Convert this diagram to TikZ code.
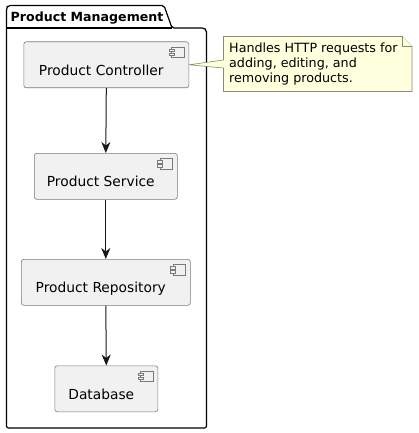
\documentclass[tikz,border=0pt]{standalone}
\usepackage{fontspec}
\setmainfont{DejaVu Sans}
\usetikzlibrary{arrows.meta}
\definecolor{compfill}{HTML}{F1F1F1}
\definecolor{compline}{HTML}{7A7A7A}
\definecolor{notefill}{HTML}{FEFFDD}
\definecolor{noteline}{HTML}{8A8A70}
\definecolor{inkc}{HTML}{181818}
\tikzset{
  x=1pt,y=-1pt,
  compbox/.style={draw=compline,fill=compfill,line width=0.6pt,rounded corners=2.5pt,inner sep=0pt,anchor=north west,text=black,font=\fontsize{13.8}{16}\selectfont},
  flow/.style={draw=inkc,line width=1pt,-{Stealth[length=11pt,width=9pt,inset=3.5pt]}},
  pkgline/.style={draw=black,line width=1.2pt,line join=round},
  iconline/.style={draw=compline,line width=0.5pt,fill=compfill},
  notetext/.style={font=\fontsize{12.7}{15}\selectfont,align=left,anchor=north west,inner sep=0pt,text=black}
}
\newcommand{\complabel}[1]{\raisebox{-10.5pt}[0pt][0pt]{#1}\kern10pt\relax}
\newcommand{\compicon}[1]{%
  \draw[iconline] ([xshift=-17.5pt,yshift=-5.5pt]#1.north east) rectangle ([xshift=-5pt,yshift=-16pt]#1.north east);
  \draw[iconline] ([xshift=-20pt,yshift=-7.5pt]#1.north east) rectangle ([xshift=-15pt,yshift=-10pt]#1.north east);
  \draw[iconline] ([xshift=-20pt,yshift=-11.5pt]#1.north east) rectangle ([xshift=-15pt,yshift=-14pt]#1.north east);
}
\begin{document}
\begin{tikzpicture}
\useasboundingbox (0,0) rectangle (418,433);
\fill[white] (0,0) rectangle (418,433);
% package
\draw[pkgline,rounded corners=2pt] (6.5,28) -- (6.5,8) -- (8,5.5) -- (164,5.5) -- (172,28) -- (204,28) -- (206.5,30) -- (206.5,428) -- (6.5,428) -- cycle;
\draw[pkgline] (6.5,28) -- (172,28);
\node[anchor=base west,inner sep=0pt,font=\bfseries\fontsize{12.6}{15}\selectfont] (pkgtitle) at (10.5,22) {Product Management};
% components
\node[compbox,minimum width=165pt,minimum height=46pt] (ctrl) at (23.5,41.5) {\complabel{Product Controller}};
\node[compbox,minimum width=143pt,minimum height=46pt] (serv) at (34,153) {\complabel{Product Service}};
\node[compbox,minimum width=169pt,minimum height=46pt] (repo) at (21,259) {\complabel{Product Repository}};
\node[compbox,minimum width=103pt,minimum height=46pt] (dbase) at (54.5,365.5) {\complabel{Database}};
\compicon{ctrl}\compicon{serv}\compicon{repo}\compicon{dbase}
% arrows
\draw[flow] (ctrl.south) -- (serv.north);
\draw[flow] (serv.south) -- (repo.north);
\draw[flow] (repo.south) -- (dbase.north);
% note
\coordinate (tailtip) at (ctrl.east);
\draw[draw=noteline,fill=notefill,line width=0.6pt,line join=round] (223.5,36.5) -- (402,36.5) -- (412,46.5) -- (412,91.5) -- (223.5,91.5) -- (223.5,68) -- (tailtip) -- (223.5,60) -- cycle;
\draw[draw=noteline,fill=notefill,line width=0.6pt,line join=round] (402,36.5) -- (402,46.5) -- (412,46.5);
\node[notetext] (notelabel) at (229,43) {Handles HTTP requests for\\adding, editing, and\\removing products.};
\end{tikzpicture}
\end{document}
